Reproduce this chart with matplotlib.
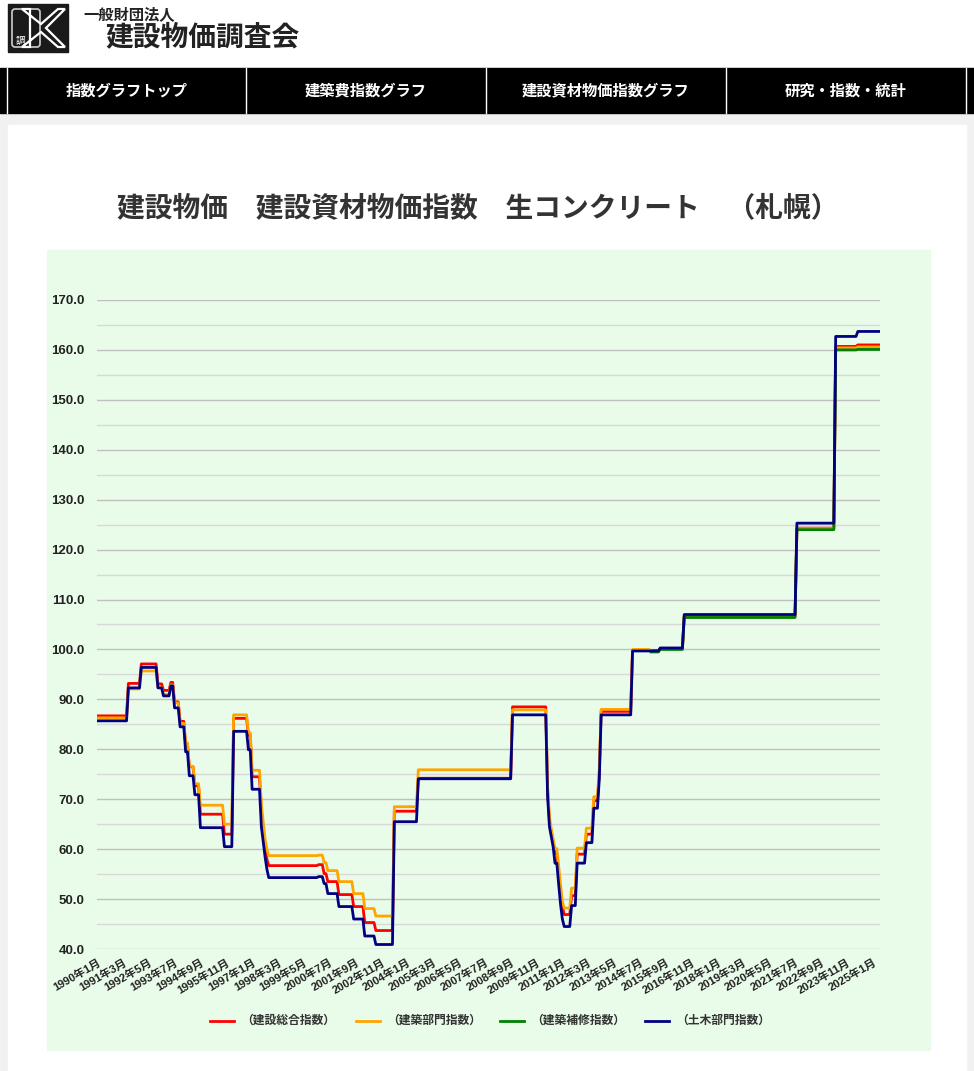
import numpy as np
import pandas as pd
import matplotlib
matplotlib.use("Agg")
import matplotlib.pyplot as plt
from matplotlib.patches import Rectangle, Polygon, FancyBboxPatch

plt.rcParams['font.family'] = ['Liberation Sans', 'Noto Sans CJK JP']

W, H = 974, 1071

# month of each revision (red / orange / navy change together)
change_months = [
    '1990-01', '1991-06', '1992-01', '1992-10', '1993-01', '1993-05', '1993-07',
    '1993-10', '1994-01', '1994-03', '1994-06', '1994-09', '1995-10', '1996-03',
    '1996-11', '1997-01', '1997-06', '1997-07', '1997-08', '1997-09', '1997-10',
    '2000-01', '2000-04', '2000-06', '2000-12', '2001-08', '2002-02', '2002-08',
    '2003-06', '2004-07', '2008-10', '2010-05', '2010-06', '2010-07', '2010-08',
    '2010-09', '2010-11', '2010-12', '2011-01', '2011-02', '2011-06', '2011-09',
    '2012-02', '2012-06', '2012-09', '2012-10', '2014-03', '2015-01', '2015-06',
    '2016-07', '2021-08', '2023-05', '2024-05',
]
sogo = [  # 建設総合指数
    86.7, 93.2, 97.1, 93.1, 91.8, 93.4, 89.5, 85.6, 81.0, 76.5, 72.7, 67.0, 63.0,
    86.2, 82.8, 74.5, 67.5, 63.5, 60.5, 58.0, 56.7, 56.9, 55.1, 53.5, 50.9, 48.5,
    45.3, 43.7, 67.6, 74.2, 88.5, 72.0, 65.5, 63.5, 61.5, 59.2, 55.2, 51.5, 48.5,
    46.9, 50.7, 59.0, 63.0, 69.7, 75.2, 87.6, 99.8, 99.8, 100.2, 106.7, 124.3,
    160.7, 161.0,
]
kenchiku = [  # 建築部門指数
    86.3, 92.1, 95.7, 92.4, 91.0, 92.9, 89.3, 85.2, 81.3, 76.6, 73.1, 68.8, 65.0,
    86.9, 83.3, 75.8, 69.0, 65.5, 62.0, 60.0, 58.7, 58.8, 57.3, 55.7, 53.5, 51.1,
    48.1, 46.6, 68.5, 75.9, 87.9, 72.5, 66.5, 64.0, 62.0, 60.1, 56.5, 53.0, 49.5,
    48.2, 52.2, 60.2, 64.2, 70.5, 76.0, 88.0, 100.0, 99.7, 100.2, 106.7, 124.2,
    160.4, 160.6,
]
doboku = [  # 土木部門指数
    85.7, 92.3, 96.4, 92.3, 90.7, 92.7, 88.3, 84.5, 79.5, 74.7, 70.9, 64.3, 60.5,
    83.6, 79.9, 72.0, 64.5, 61.5, 58.5, 56.0, 54.3, 54.5, 53.1, 51.1, 48.5, 46.0,
    42.6, 40.9, 65.5, 74.1, 86.9, 70.5, 64.5, 62.5, 60.5, 57.2, 52.9, 49.0, 46.0,
    44.5, 48.7, 57.2, 61.3, 68.2, 74.1, 86.9, 99.7, 99.7, 100.3, 107.0, 125.3,
    162.7, 163.7,
]
hoshu_months = ['2015-01', '2015-06', '2016-07', '2021-08', '2023-05', '2024-05']
hoshu = [99.5, 100.0, 106.4, 124.0, 160.0, 160.1]  # 建築補修指数

series_names = ['（建設総合指数）', '（建築部門指数）', '（建築補修指数）', '（土木部門指数）']
series_colors = ['#ff0000', '#ffa500', '#008000', '#000080']

months = pd.period_range('1990-01', '2025-05', freq='M')


def expand(dates, vals):
    s = pd.Series(vals, index=pd.PeriodIndex(dates, freq='M'))
    return s.reindex(months).ffill().to_numpy()


series = [expand(change_months, sogo), expand(change_months, kenchiku),
          expand(hoshu_months, hoshu), expand(change_months, doboku)]

fig = plt.figure(figsize=(W / 100, H / 100), dpi=100)

# page background, drawn in pixel coordinates
bg = fig.add_axes([0, 0, 1, 1])
bg.set_xlim(0, W)
bg.set_ylim(H, 0)
bg.axis('off')
bg.add_patch(Rectangle((0, 0), W, H, color='#f1f1f1'))
bg.add_patch(Rectangle((0, 0), W, 68, color='white'))
bg.add_patch(Rectangle((0, 68), W, 45, color='black'))
bg.add_patch(Rectangle((8, 125), 958, H - 125, color='white'))
bg.add_patch(Rectangle((47, 250), 883, 800, color='#e9fbe9'))

# logo
bg.add_patch(Rectangle((8, 4), 60, 48, color='#1a1a1a'))
bg.add_patch(FancyBboxPatch((12, 9), 28, 38, boxstyle='round,pad=0,rounding_size=3',
                            fill=False, ec='#cfcfcf', lw=1.2))
bg.add_patch(Polygon([(22, 9), (41, 24), (58, 9), (65, 9), (46, 28), (65, 47),
                      (58, 47), (41, 32), (22, 47), (30, 47), (30, 9)],
                     closed=True, fc='none', ec='white', lw=1.6))
bg.text(16, 41, '調', fontsize=7, color='white', ha='left', va='center')
bg.text(83, 15, '一般財団法人', fontsize=11, fontweight='bold', color='#222222',
        ha='left', va='center')
bg.text(105, 38, '建設物価調査会', fontsize=20, fontweight='bold', color='#222222',
        ha='left', va='center')

# navigation bar
nav_items = ['指数グラフトップ', '建築費指数グラフ', '建設資材物価指数グラフ', '研究・指数・統計']
edges = [7, 246, 486, 726, 966]
for x in edges:
    bg.plot([x, x], [68, 113], color='white', lw=1)
for i, label in enumerate(nav_items):
    bg.text((edges[i] + edges[i + 1]) / 2, 91, label, fontsize=11, fontweight='bold',
            color='white', ha='center', va='center')

bg.text(478, 209, '建設物価　建設資材物価指数　生コンクリート　（札幌）', fontsize=20,
        fontweight='bold', color='#333333', ha='center', va='center')

# legend
legend_x = [210, 356, 500, 645]
for x, name, color in zip(legend_x, series_names, series_colors):
    bg.plot([x, x + 24], [1021, 1021], color=color, lw=2)
    bg.text(x + 31, 1021, name, fontsize=8.5, fontweight='bold', color='#333333',
            ha='left', va='center')

# chart
ax = fig.add_axes([97 / W, 1 - 949 / H, 783 / W, 649 / H])
ax.set_facecolor('none')
x = np.arange(len(months))
for k, (vals, color) in enumerate(zip(series, series_colors)):
    ax.plot(x, vals, color=color, lw=2.0, zorder=3 + k)

ax.set_xlim(0, len(months) - 1)
ax.set_ylim(40, 170)
ax.set_yticks(np.arange(40, 171, 10))
ax.set_yticks(np.arange(45, 170, 10), minor=True)
ax.set_yticklabels([f'{v:.1f}' for v in np.arange(40, 171, 10)])
ax.grid(axis='y', which='major', color='#c0c0c0', lw=1)
ax.grid(axis='y', which='minor', color='#d8d8d8', lw=1)
tick_idx = x[::14]
ax.set_xticks(tick_idx)
ax.set_xticklabels([f'{months[i].year}年{months[i].month}月' for i in tick_idx],
                   rotation=30, ha='right', va='top', rotation_mode='anchor')
for s in ax.spines.values():
    s.set_visible(False)
ax.tick_params(axis='both', which='both', length=0)
ax.tick_params(axis='y', pad=9, labelsize=9.5, labelcolor='#222222')
ax.tick_params(axis='x', pad=6, labelsize=8, labelcolor='#222222')
for lab in ax.get_yticklabels() + ax.get_xticklabels():
    lab.set_fontweight('bold')

fig.savefig('out.png', dpi=100)
